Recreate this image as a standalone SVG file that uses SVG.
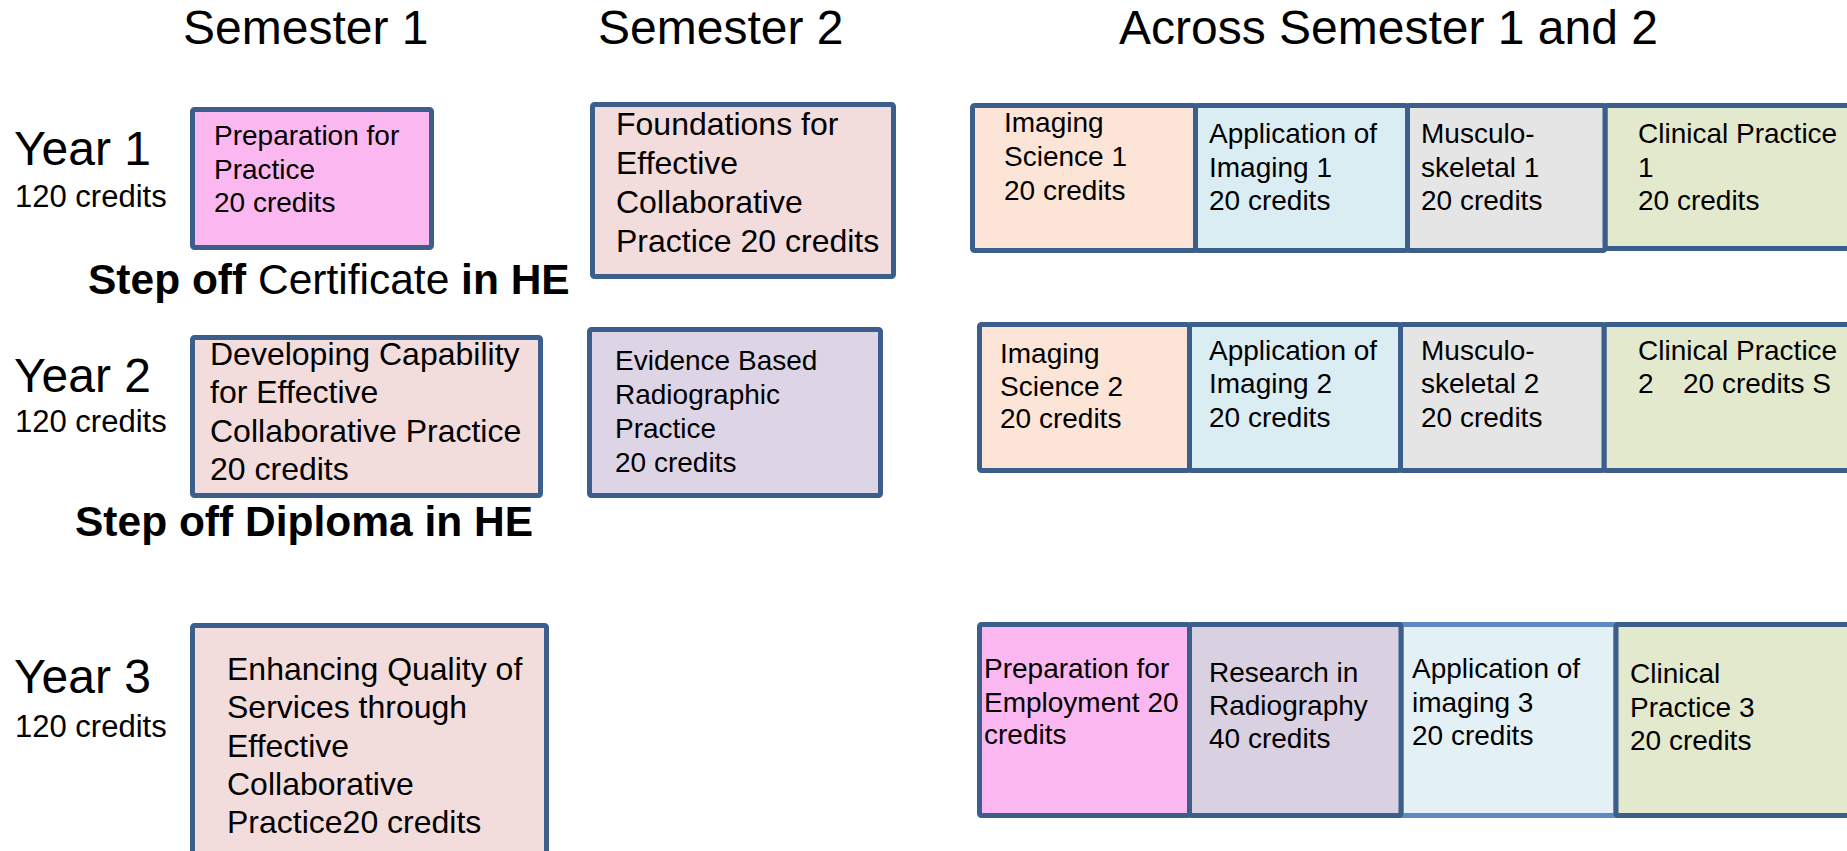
<svg xmlns="http://www.w3.org/2000/svg" width="1847" height="851" viewBox="0 0 1847 851">
<style>
text{font-family:"Liberation Sans",Arial,sans-serif;fill:#000}
.h{font-size:48px}
.yr{font-size:48px}
.cr{font-size:31px}
.so{font-size:42.5px;font-weight:bold}
.n{font-weight:normal}
.t28{font-size:28px}
.t32{font-size:32px}
.b{stroke:#3b5e8c;stroke-width:5}
.lb{stroke:#5b8ac4;stroke-width:5}
.pink{fill:#fbb7ef}
.rose{fill:#f2dcdc}
.lav{fill:#ddd5e5}
.peach{fill:#fce5d6}
.blue{fill:#daedf3}
.grey{fill:#e5e5e5}
.green{fill:#e3e9cd}
.lav2{fill:#d9d0e1}
.blue2{fill:#e3f1f6}
</style>
<g id="headers">
<text class="h" x="183" y="44">Semester 1</text>
<text class="h" x="598" y="44">Semester 2</text>
<text class="h" x="1119" y="44">Across Semester 1 and 2</text>
</g>
<g id="year-labels">
<text class="yr" x="14" y="165">Year 1</text>
<text class="cr" x="15" y="207">120 credits</text>
<text class="yr" x="14" y="392">Year 2</text>
<text class="cr" x="15" y="432">120 credits</text>
<text class="yr" x="14" y="693">Year 3</text>
<text class="cr" x="15" y="737">120 credits</text>
</g>
<g id="step-offs">
<text class="so" x="88" y="294">Step off <tspan class="n">Certificate</tspan> in HE</text>
<text class="so" x="75" y="536">Step off Diploma in HE</text>
</g>
<g id="connectors"></g>
<g id="y1-prep-practice">
<rect class="b pink" x="192.5" y="109.5" width="239" height="138" rx="2"/>
<text class="t28" x="214"><tspan x="214" y="145">Preparation for</tspan><tspan x="214" y="179">Practice</tspan><tspan x="214" y="212">20 credits</tspan></text>
</g>
<g id="y1-foundations">
<rect class="b rose" x="592.5" y="104.5" width="301" height="172" rx="2"/>
<text class="t32"><tspan x="616" y="135">Foundations for</tspan><tspan x="616" y="174">Effective</tspan><tspan x="616" y="213">Collaborative</tspan><tspan x="616" y="252">Practice 20 credits</tspan></text>
</g>
<g id="y1-clinical-practice">
<rect class="b green" x="1605" y="105.5" width="250" height="143" rx="2"/>
<text class="t28"><tspan x="1638" y="143">Clinical Practice</tspan><tspan x="1638" y="177">1</tspan><tspan x="1638" y="210">20 credits</tspan></text>
</g>
<g id="y1-imaging-science">
<rect class="b peach" x="972.5" y="105.5" width="223" height="145" rx="2"/>
<text class="t28"><tspan x="1004" y="132">Imaging</tspan><tspan x="1004" y="166">Science 1</tspan><tspan x="1004" y="200">20 credits</tspan></text>
</g>
<g id="y1-application-imaging">
<rect class="b blue" x="1195.5" y="105.5" width="212" height="145" rx="2"/>
<text class="t28"><tspan x="1209" y="143">Application of</tspan><tspan x="1209" y="177">Imaging 1</tspan><tspan x="1209" y="210">20 credits</tspan></text>
</g>
<g id="y1-musculoskeletal">
<rect class="b grey" x="1407.5" y="105.5" width="197.5" height="145" rx="2"/>
<text class="t28"><tspan x="1421" y="143">Musculo-</tspan><tspan x="1421" y="177">skeletal 1</tspan><tspan x="1421" y="210">20 credits</tspan></text>
</g>
<g id="y2-developing">
<rect class="b rose" x="192.5" y="337.5" width="348" height="158" rx="2"/>
<text class="t32"><tspan x="210" y="365">Developing Capability</tspan><tspan x="210" y="403">for Effective</tspan><tspan x="210" y="442">Collaborative Practice</tspan><tspan x="210" y="480">20 credits</tspan></text>
</g>
<g id="y2-evidence">
<rect class="b lav" x="589.5" y="329.5" width="291" height="166" rx="2"/>
<text class="t28"><tspan x="615" y="370">Evidence Based</tspan><tspan x="615" y="404">Radiographic</tspan><tspan x="615" y="438">Practice</tspan><tspan x="615" y="472">20 credits</tspan></text>
</g>
<g id="y2-clinical-practice">
<rect class="b green" x="1604" y="324.5" width="251" height="146" rx="2"/>
<text class="t28"><tspan x="1638" y="360">Clinical Practice</tspan><tspan x="1638" y="393">2</tspan><tspan x="1683" y="393">20 credits S</tspan></text>
</g>
<g id="y2-imaging-science">
<rect class="b peach" x="979.5" y="324.5" width="210" height="146" rx="2"/>
<text class="t28"><tspan x="1000" y="363">Imaging</tspan><tspan x="1000" y="396">Science 2</tspan><tspan x="1000" y="428">20 credits</tspan></text>
</g>
<g id="y2-application-imaging">
<rect class="b blue" x="1189.5" y="324.5" width="211" height="146" rx="2"/>
<text class="t28"><tspan x="1209" y="360">Application of</tspan><tspan x="1209" y="393">Imaging 2</tspan><tspan x="1209" y="427">20 credits</tspan></text>
</g>
<g id="y2-musculoskeletal">
<rect class="b grey" x="1400.5" y="324.5" width="203.5" height="146" rx="2"/>
<text class="t28"><tspan x="1421" y="360">Musculo-</tspan><tspan x="1421" y="393">skeletal 2</tspan><tspan x="1421" y="427">20 credits</tspan></text>
</g>
<g id="y3-enhancing">
<rect class="b rose" x="192.5" y="625.5" width="354" height="240" rx="2"/>
<text class="t32"><tspan x="227" y="680">Enhancing Quality of</tspan><tspan x="227" y="718">Services through</tspan><tspan x="227" y="757">Effective</tspan><tspan x="227" y="795">Collaborative</tspan><tspan x="227" y="833">Practice20 credits</tspan></text>
</g>
<g id="y3-application-imaging">
<rect class="lb blue2" x="1401" y="624.5" width="215" height="191"/>
<text class="t28"><tspan x="1412" y="678">Application of</tspan><tspan x="1412" y="712">imaging 3</tspan><tspan x="1412" y="745">20 credits</tspan></text>
</g>
<g id="y3-prep-employment">
<rect class="b pink" x="979.5" y="624.5" width="210" height="191" rx="2"/>
<text class="t28"><tspan x="984" y="678">Preparation for</tspan><tspan x="984" y="712">Employment 20</tspan><tspan x="984" y="744">credits</tspan></text>
</g>
<g id="y3-research">
<rect class="b lav2" x="1189.5" y="624.5" width="211.5" height="191" rx="2"/>
<text class="t28"><tspan x="1209" y="682">Research in</tspan><tspan x="1209" y="715">Radiography</tspan><tspan x="1209" y="748">40 credits</tspan></text>
</g>
<g id="y3-clinical-practice">
<rect class="b green" x="1616" y="624.5" width="240" height="191" rx="2"/>
<text class="t28"><tspan x="1630" y="683">Clinical</tspan><tspan x="1630" y="717">Practice 3</tspan><tspan x="1630" y="750">20 credits</tspan></text>
</g>
</svg>
